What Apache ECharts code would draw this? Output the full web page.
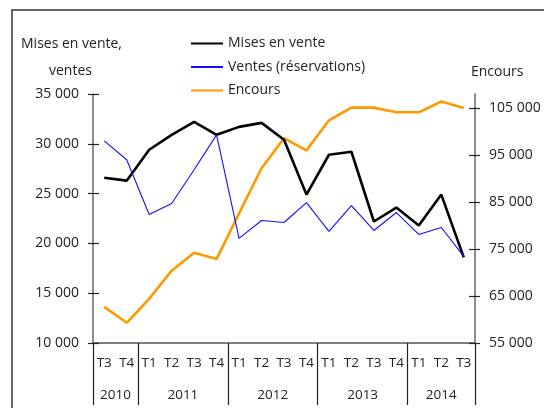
<!DOCTYPE html>
<html lang="fr">
<head>
    <meta charset="UTF-8">
    <title>Mises en vente, ventes et encours</title>
    <script src="https://cdn.jsdelivr.net/npm/echarts@6/dist/echarts.min.js"></script>
    <style>
        * { margin: 0; padding: 0; box-sizing: border-box; }
        body { background: #ffffff; }
        #chart { width: 544px; height: 408px; }
    </style>
</head>
<body>
    <div id="chart"></div>

    <script type="text/javascript">
        // Data
        const quarters = ['T3', 'T4', 'T1', 'T2', 'T3', 'T4', 'T1', 'T2', 'T3', 'T4', 'T1', 'T2', 'T3', 'T4', 'T1', 'T2', 'T3'];
        const years = ['2010', '2011', '2012', '2013', '2014'];
        const quartersPerYear = [2, 4, 4, 4, 3];

        const misesEnVente = [26600, 26300, 29400, 30900, 32200, 30900, 31700, 32100, 30400, 24900, 28900, 29200, 22200, 23600, 21800, 24900, 18600];
        const ventes = [30300, 28400, 22900, 24000, 27400, 30900, 20500, 22300, 22100, 24100, 21200, 23800, 21300, 23100, 20900, 21600, 18700];
        const encours = [62700, 59300, 64400, 70400, 74200, 72900, 82600, 92200, 98600, 96000, 102400, 105100, 105100, 104100, 104100, 106400, 105000];

        const rightTicks = [55000, 65000, 75000, 85000, 95000, 105000];

        const FONT = '"Open Sans", sans-serif';
        const TEXT = '#222';

        function fmt(v) {
            return String(v).replace(/\B(?=(\d{3})+(?!\d))/g, ' ');
        }

        // year boundaries and centres on a 0..17 value scale
        let yearEdges = [0];
        let yearCentres = [];
        quartersPerYear.forEach(function (n) {
            const start = yearEdges[yearEdges.length - 1];
            yearCentres.push(start + n / 2);
            yearEdges.push(start + n);
        });

        const chart = echarts.init(document.getElementById('chart'));

        const option = {
            animation: false,
            textStyle: { fontFamily: FONT, color: TEXT },
            grid: { left: 93, right: 69, top: 94, bottom: 65, containLabel: false },
            legend: {
                orient: 'vertical',
                left: 190,
                top: 36.5,
                padding: 0,
                itemWidth: 32,
                itemHeight: 14,
                itemGap: 9.5,
                itemStyle: { opacity: 0 },   // hide the circle, keep the line
                textStyle: { fontFamily: FONT, fontSize: 14, color: TEXT },
                data: ['Mises en vente', 'Ventes (réservations)', 'Encours']
            },
            graphic: [
                {
                    type: 'rect', silent: true,
                    shape: { x: 12, y: 10, width: 700, height: 600 },
                    style: { fill: 'none', stroke: '#333', lineWidth: 1.5 }
                },
                { type: 'text', left: 21, top: 37, style: { text: 'Mises en vente,', font: '14px ' + FONT, fill: TEXT } },
                { type: 'text', left: 49, top: 64, style: { text: 'ventes', font: '14px ' + FONT, fill: TEXT } },
                { type: 'text', left: 471, top: 65, style: { text: 'Encours', font: '14px ' + FONT, fill: TEXT } }
            ],
            xAxis: [
                {
                    // quarters
                    type: 'category',
                    data: quarters,
                    axisLine: { lineStyle: { color: '#555', width: 1.5 } },
                    axisTick: { interval: 0, length: 29, lineStyle: { color: '#222', width: 1.2 } },
                    axisLabel: { interval: 0, margin: 13, fontSize: 13.5, color: TEXT, fontFamily: FONT }
                },
                {
                    // years
                    type: 'value',
                    min: 0,
                    max: 17,
                    position: 'bottom',
                    axisLine: { show: false },
                    splitLine: { show: false },
                    axisTick: { show: true, length: 62, customValues: yearEdges, lineStyle: { color: '#222', width: 1.2 } },
                    axisLabel: {
                        margin: 45,
                        fontSize: 13.5,
                        color: TEXT,
                        fontFamily: FONT,
                        customValues: yearCentres,
                        formatter: function (v) {
                            const i = yearCentres.indexOf(v);
                            return i >= 0 ? years[i] : '';
                        }
                    }
                },
                {
                    // small tick stubs above the axis line
                    type: 'category',
                    data: quarters,
                    position: 'bottom',
                    axisLine: { show: false },
                    axisTick: { interval: 0, inside: true, length: 5, lineStyle: { color: '#222', width: 1.2 } },
                    axisLabel: { show: false }
                }
            ],
            yAxis: [
                {
                    type: 'value',
                    position: 'left',
                    min: 10000,
                    max: 35000,
                    interval: 5000,
                    splitLine: { show: false },
                    axisLine: { show: true, lineStyle: { color: '#666', width: 1.5 } },
                    axisTick: { show: true, length: 5, lineStyle: { color: '#222', width: 1.2 } },
                    axisLabel: { margin: 14, fontSize: 14, color: TEXT, fontFamily: FONT, formatter: fmt }
                },
                {
                    type: 'value',
                    position: 'right',
                    min: 55000,
                    max: 108000,
                    splitLine: { show: false },
                    axisLine: { show: true, lineStyle: { color: '#666', width: 1.5 } },
                    axisTick: { show: true, length: 5, customValues: rightTicks, lineStyle: { color: '#222', width: 1.2 } },
                    axisLabel: { margin: 14, fontSize: 14, color: TEXT, fontFamily: FONT, customValues: rightTicks, formatter: fmt }
                },
                {
                    type: 'value',
                    position: 'left',
                    min: 10000,
                    max: 35000,
                    interval: 5000,
                    splitLine: { show: false },
                    axisLine: { show: false },
                    axisTick: { show: true, inside: true, length: 6, lineStyle: { color: '#222', width: 1.2 } },
                    axisLabel: { show: false }
                },
                {
                    type: 'value',
                    position: 'right',
                    min: 55000,
                    max: 108000,
                    splitLine: { show: false },
                    axisLine: { show: false },
                    axisTick: { show: true, inside: true, length: 6, customValues: rightTicks, lineStyle: { color: '#222', width: 1.2 } },
                    axisLabel: { show: false }
                }
            ],
            series: [
                {
                    name: 'Mises en vente',
                    type: 'line',
                    data: misesEnVente,
                    yAxisIndex: 0,
                    symbol: 'none',
                    z: 4,
                    lineStyle: { color: '#000000', width: 2.6 },
                    itemStyle: { color: '#000000' }
                },
                {
                    name: 'Ventes (réservations)',
                    type: 'line',
                    data: ventes,
                    yAxisIndex: 0,
                    symbol: 'none',
                    z: 5,
                    lineStyle: { color: '#1010ff', width: 1.1 },
                    itemStyle: { color: '#1010ff' }
                },
                {
                    name: 'Encours',
                    type: 'line',
                    data: encours,
                    yAxisIndex: 1,
                    symbol: 'none',
                    z: 3,
                    lineStyle: { color: '#ff9900', width: 2.6 },
                    itemStyle: { color: '#ff9900' }
                }
            ]
        };

        chart.setOption(option);
    </script>
</body>
</html>
